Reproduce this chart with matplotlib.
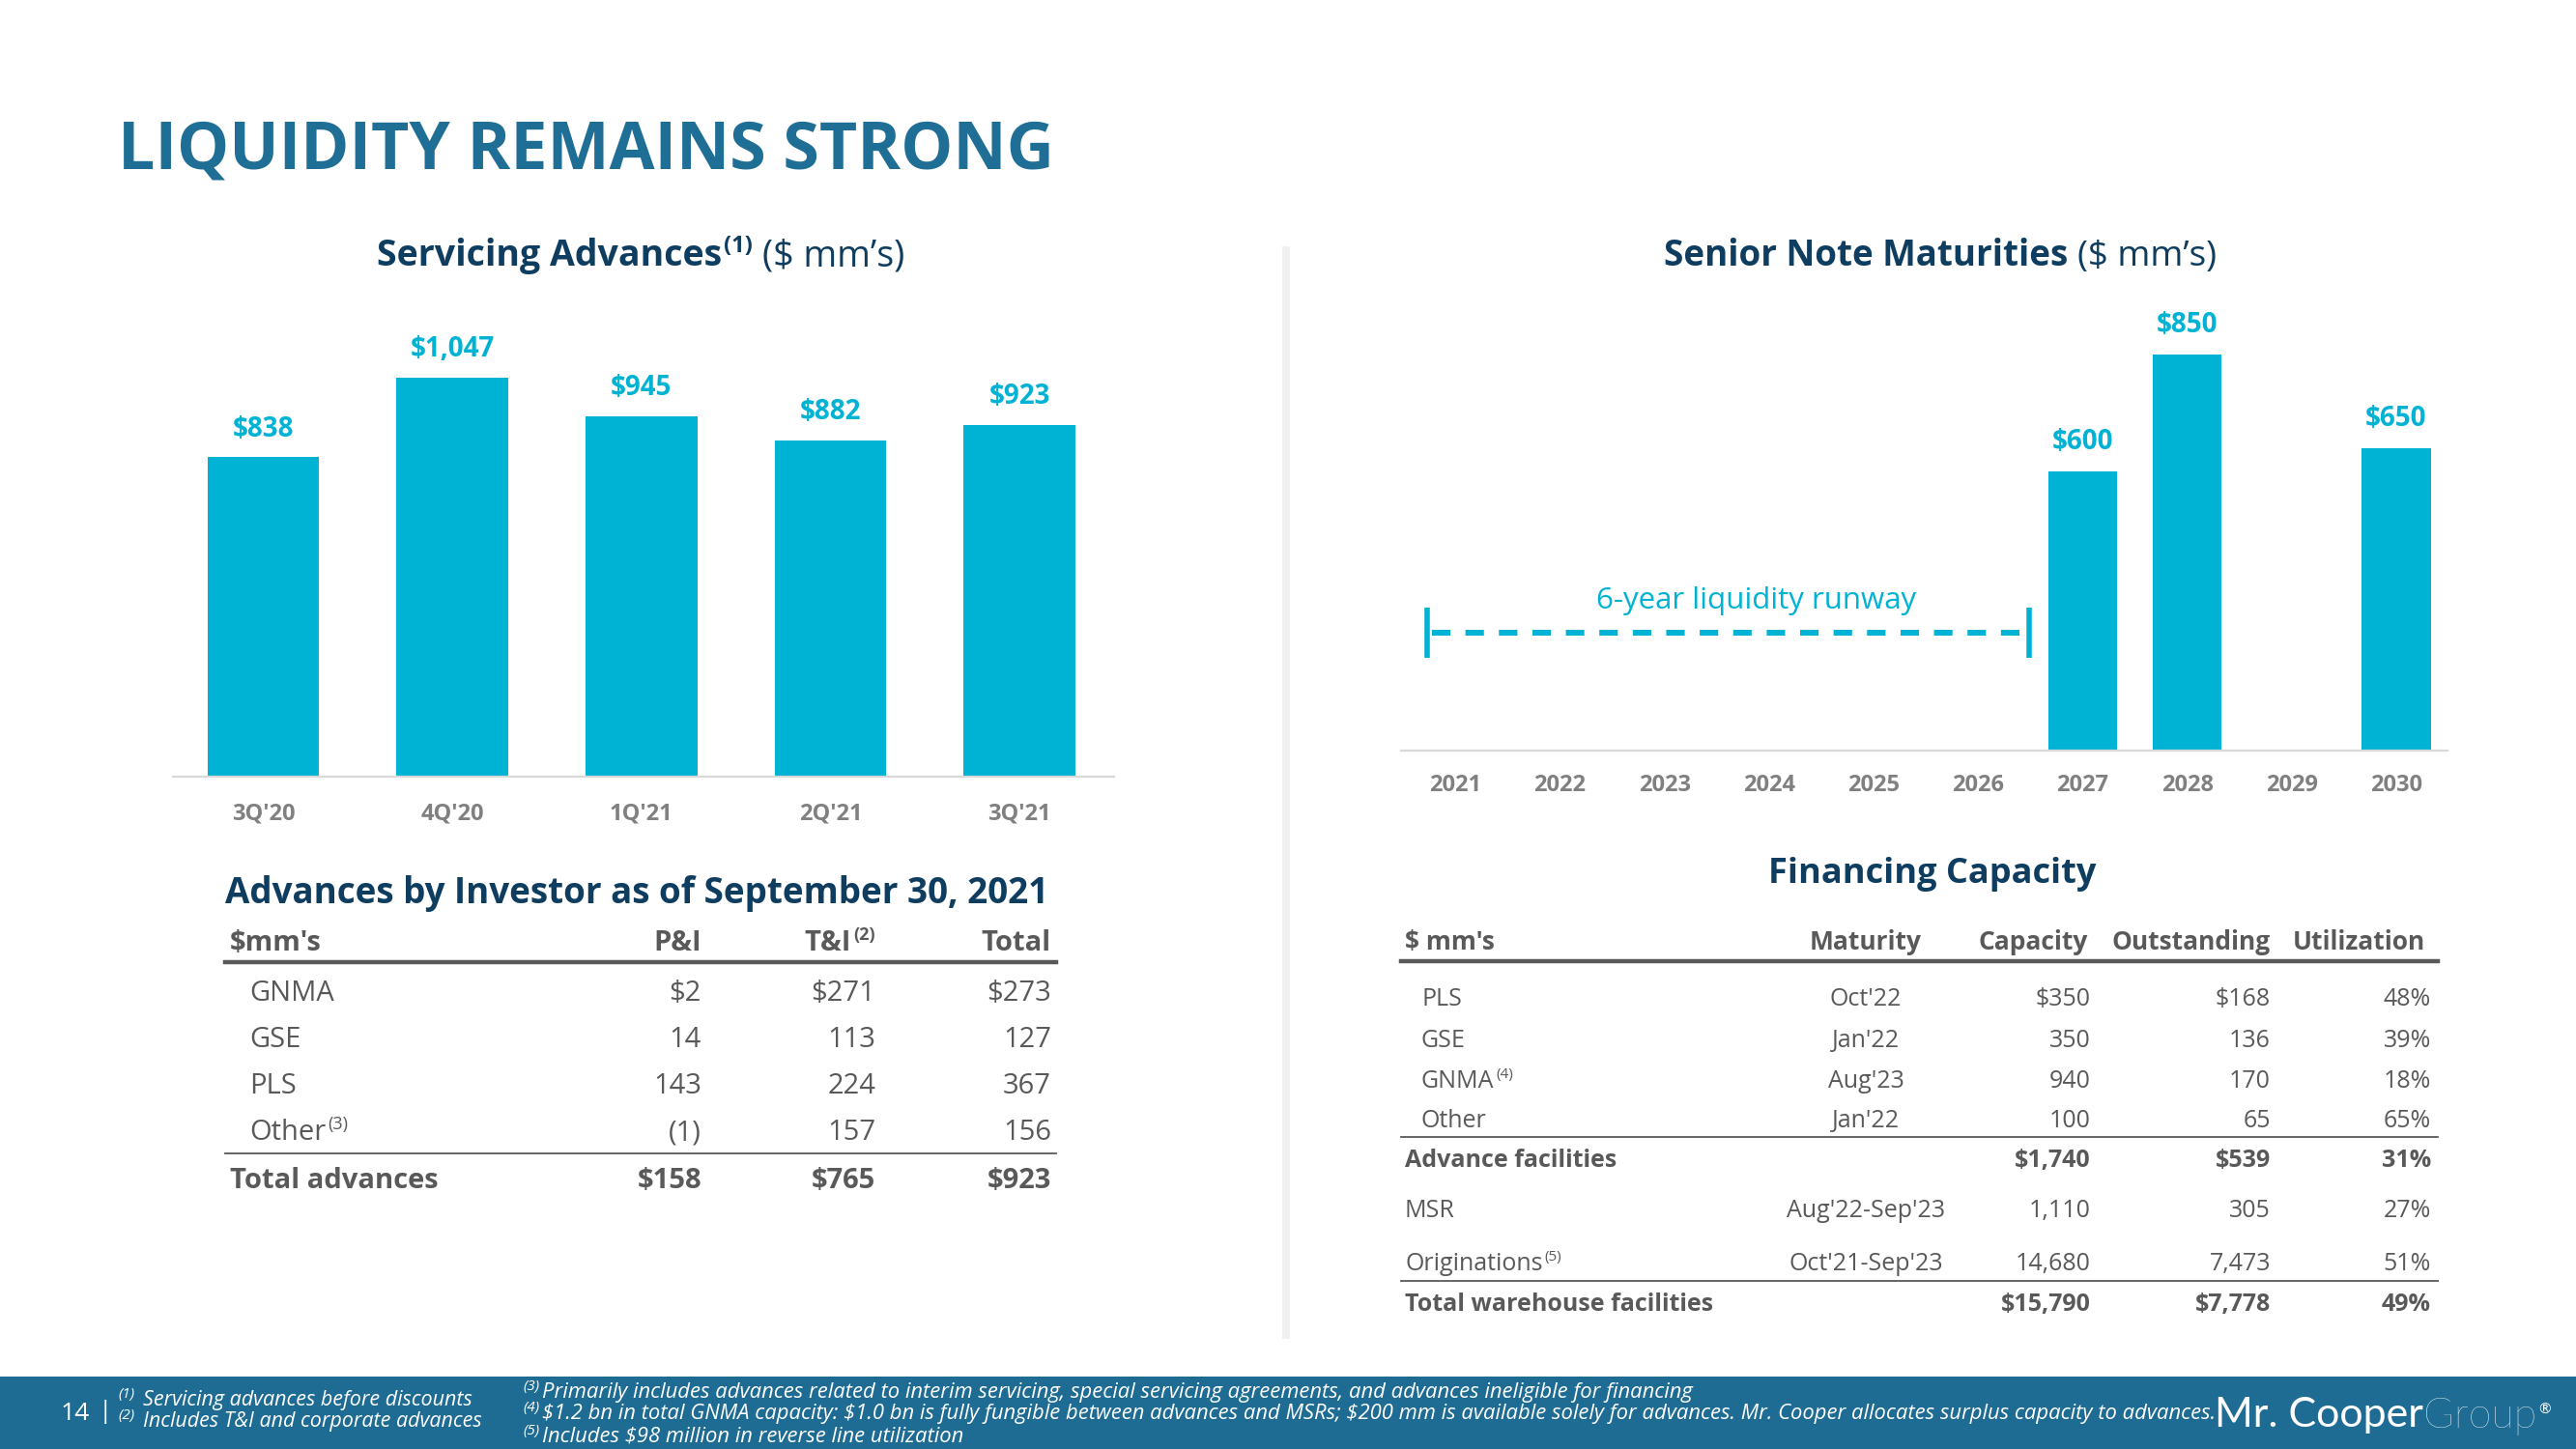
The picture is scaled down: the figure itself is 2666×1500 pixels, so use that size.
import matplotlib
matplotlib.use('Agg')
import matplotlib.pyplot as plt
from matplotlib.patches import Rectangle

# ---- data ----
quarters = ["3Q'20", "4Q'20", "1Q'21", "2Q'21", "3Q'21"]
advances = [838, 1047, 945, 882, 923]

years = [2021, 2022, 2023, 2024, 2025, 2026, 2027, 2028, 2029, 2030]
maturities = [0, 0, 0, 0, 0, 0, 600, 850, 0, 650]
runway_start, runway_end = 2021, 2027

inv_rows = ['GNMA', 'GSE', 'PLS', 'Other']
inv_sup = ['', '', '', '(3)']
inv_pi = ['$2', '14', '143', '(1)']
inv_ti = ['$271', '113', '224', '157']
inv_total = ['$273', '127', '367', '156']
inv_sum = ['$158', '$765', '$923']

fin_rows = ['PLS', 'GSE', 'GNMA', 'Other']
fin_sup = ['', '', '(4)', '']
fin_maturity = ["Oct'22", "Jan'22", "Aug'23", "Jan'22"]
fin_capacity = ['$350', '350', '940', '100']
fin_outstanding = ['$168', '136', '170', '65']
fin_util = ['48%', '39%', '18%', '65%']
adv_fac = ['$1,740', '$539', '31%']
msr = ["Aug'22-Sep'23", '1,110', '305', '27%']
orig = ["Oct'21-Sep'23", '14,680', '7,473', '51%']
total_wh = ['$15,790', '$7,778', '49%']

notes_left = [('(1)', 'Servicing advances before discounts'),
              ('(2)', 'Includes T&I and corporate advances')]
notes_right = [('(3)', 'Primarily includes advances related to interim servicing, special servicing agreements, and advances ineligible for financing'),
               ('(4)', '$1.2 bn in total GNMA capacity: $1.0 bn is fully fungible between advances and MSRs; $200 mm is available solely for advances. Mr. Cooper allocates surplus capacity to advances.'),
               ('(5)', 'Includes $98 million in reverse line utilization')]

# ---- style ----
FONT = ['Open Sans', 'DejaVu Sans']
CYAN = '#00B2D3'
TITLE_BLUE = '#1F6E96'
NAVY = '#0E3D5F'
GRAY = '#595959'
TICK_GRAY = '#808080'
BAND = '#1E6C93'

plt.rcParams['font.family'] = FONT

W, H = 2666, 1500
fig = plt.figure(figsize=(W / 100, H / 100), dpi=100)
R = fig.canvas.get_renderer()


def put(x, yc, s, size, color=GRAY, weight='normal', ha='left', style='normal'):
    return fig.text(x / W, 1 - (yc + size * 0.5) / H, s, fontsize=size, color=color,
                    fontweight=weight, ha=ha, va='baseline', fontstyle=style)


def chain(x, yc, pieces, ha='left'):
    # pieces: (text, size, props, raise_px, gap_after_px)
    base = yc + pieces[0][1] * 0.5
    objs, widths = [], []
    for s, size, kw, dy, gap in pieces:
        t = fig.text(0, 1 - (base - dy) / H, s, fontsize=size, va='baseline', ha='left', **kw)
        widths.append(t.get_window_extent(R).width + gap)
        objs.append(t)
    total = sum(widths)
    start = x - {'left': 0, 'center': total / 2, 'right': total}[ha]
    for t, w in zip(objs, widths):
        t.set_x(start / W)
        start += w


def hline(y, x0, x1, lw, color=GRAY):
    fig.add_artist(plt.Line2D([x0 / W, x1 / W], [1 - y / H, 1 - y / H], lw=lw, color=color))


# ---- title ----
put(122, 150, 'LIQUIDITY REMAINS STRONG', 49, TITLE_BLUE, 'bold')

# ---- left chart: servicing advances ----
bold_navy = dict(color=NAVY, fontweight='bold')
reg_navy = dict(color=NAVY)
chain(663, 262, [('Servicing Advances', 27, bold_navy, 0, 2),
                 ('(1)', 17, bold_navy, 14, 10),
                 ("($ mm\u2019s)", 27, reg_navy, 0, 0)], ha='center')

ax1 = fig.add_axes([178.5 / W, 1 - 804 / H, (1153 - 178.5) / W, (804 - 306) / H])
xs = range(len(quarters))
ax1.bar(xs, advances, width=0.59, color=CYAN)
for x, v in zip(xs, advances):
    ax1.annotate(f'${v:,}', (x, v), xytext=(0, 21), textcoords='offset points',
                 ha='center', va='center', fontsize=20, fontweight='bold', color=CYAN)
ax1.set_xlim(-0.48, 4.5)
ax1.set_ylim(0, 1262)
ax1.set_xticks(list(xs), quarters)

# ---- right chart: senior note maturities ----
chain(2008, 262, [('Senior Note Maturities', 26.5, bold_navy, 0, 10),
                  ("($ mm\u2019s)", 26.5, reg_navy, 0, 0)], ha='center')

ax2 = fig.add_axes([1450 / W, 1 - 777 / H, (2533 - 1450) / W, (777 - 306) / H])
ax2.bar(years, maturities, width=0.66, color=CYAN)
for x, v in zip(years, maturities):
    if v:
        ax2.annotate(f'${v:,}', (x, v), xytext=(0, 22), textcoords='offset points',
                     ha='center', va='center', fontsize=20, fontweight='bold', color=CYAN)
ax2.set_xlim(2020.48, 2030.49)
ax2.set_ylim(0, 977)
ax2.set_xticks(years, [str(y) for y in years])

rx0, rx1, ry = runway_start - 0.27, runway_end - 0.51, 254
ax2.plot([rx0 + 0.05, rx1], [ry, ry], color=CYAN, lw=4.3, dashes=(3.2, 2.6), solid_capstyle='butt')
for xx in (rx0, rx1):
    ax2.plot([xx, xx], [ry - 54, ry + 54], color=CYAN, lw=4.0, solid_capstyle='butt')
ax2.text((rx0 + rx1) / 2 + 0.27, 321, '6-year liquidity runway', ha='center', va='center',
         fontsize=22.5, color=CYAN)

for ax, pad in ((ax1, 19), (ax2, 17)):
    for s in ('top', 'left', 'right'):
        ax.spines[s].set_visible(False)
    ax.spines['bottom'].set_color('#D9D9D9')
    ax.spines['bottom'].set_linewidth(1.6)
    ax.set_yticks([])
    ax.tick_params(axis='x', length=0, pad=pad, labelsize=17, labelcolor=TICK_GRAY)
    for lab in ax.get_xticklabels():
        lab.set_fontweight('bold')
    ax.patch.set_alpha(0)

# divider
fig.add_artist(Rectangle((1327 / W, 1 - 1386 / H), 8 / W, (1386 - 255) / H,
                         transform=fig.transFigure, color='#F0F0F0', lw=0))

# ---- left table ----
put(233, 922, 'Advances by Investor as of September 30, 2021', 26.5, NAVY, 'bold')
hb = dict(color=GRAY, fontweight='bold')
put(238, 974, "$mm's", 21, GRAY, 'bold')
put(726, 974, 'P&I', 21, GRAY, 'bold', ha='right')
chain(906, 974, [('T&I', 21, hb, 0, 3), ('(2)', 13, hb, 11, 0)], ha='right')
put(1088, 974, 'Total', 21, GRAY, 'bold', ha='right')
hline(996, 233, 1093, 3.2)
row_y = [1025, 1073, 1122, 1170]
for y, name, sp, a, b, c in zip(row_y, inv_rows, inv_sup, inv_pi, inv_ti, inv_total):
    if sp:
        chain(258, y, [(name, 21, dict(color=GRAY), 0, 2), (sp, 13, dict(color=GRAY), 11, 0)])
    else:
        put(258, y, name, 21)
    put(726, y, a, 21, ha='right')
    put(906, y, b, 21, ha='right')
    put(1088, y, c, 21, ha='right')
hline(1194, 233, 1093, 1.3)
put(238, 1219, 'Total advances', 21, GRAY, 'bold')
for x, v in zip((726, 906, 1088), inv_sum):
    put(x, 1219, v, 21, GRAY, 'bold', ha='right')

# ---- right table ----
put(2000, 901, 'Financing Capacity', 26, NAVY, 'bold', ha='center')
put(1454, 974, "$ mm's", 19, GRAY, 'bold')
put(1931, 974, 'Maturity', 19, GRAY, 'bold', ha='center')
put(2161, 974, 'Capacity', 19, GRAY, 'bold', ha='right')
put(2350, 974, 'Outstanding', 19, GRAY, 'bold', ha='right')
put(2510, 974, 'Utilization', 19, GRAY, 'bold', ha='right')
hline(995, 1450, 2523, 3.2)
cols = (2164, 2350, 2516)
fin_y = [1032, 1075, 1117, 1158]
for y, name, sp, m, c, o, u in zip(fin_y, fin_rows, fin_sup, fin_maturity,
                                   fin_capacity, fin_outstanding, fin_util):
    if sp:
        chain(1471, y, [(name, 18, dict(color=GRAY), 0, 2), (sp, 11, dict(color=GRAY), 10, 0)])
    else:
        put(1471, y, name, 18)
    put(1931, y, m, 18, ha='center')
    for x, v in zip(cols, (c, o, u)):
        put(x, y, v, 18, ha='right')
hline(1177, 1450, 2523, 1.3)
put(1454, 1199, 'Advance facilities', 18, GRAY, 'bold')
for x, v in zip(cols, adv_fac):
    put(x, 1199, v, 18, GRAY, 'bold', ha='right')
put(1454, 1251, 'MSR', 18)
put(1931, 1251, msr[0], 18, ha='center')
for x, v in zip(cols, msr[1:]):
    put(x, 1251, v, 18, ha='right')
chain(1454, 1306, [('Originations', 18, dict(color=GRAY), 0, 2), ('(5)', 11, dict(color=GRAY), 10, 0)])
put(1931, 1306, orig[0], 18, ha='center')
for x, v in zip(cols, orig[1:]):
    put(x, 1306, v, 18, ha='right')
hline(1326, 1450, 2523, 1.3)
put(1454, 1348, 'Total warehouse facilities', 18, GRAY, 'bold')
for x, v in zip(cols, total_wh):
    put(x, 1348, v, 18, GRAY, 'bold', ha='right')

# ---- footer band ----
fig.add_artist(Rectangle((0, 0), 1, 75 / H, transform=fig.transFigure, color=BAND, lw=0))
put(63, 1460, '14', 19, 'white')
put(102, 1458, '|', 19, 'white')
it = dict(color='white', fontstyle='italic')
for (sp, txt), y in zip(notes_left, (1449, 1472)):
    chain(122, y, [(sp, 11, it, 8, 9), (txt, 15.5, it, 0, 0)])
for (sp, txt), y in zip(notes_right, (1442, 1464, 1487)):
    chain(541, y, [(sp, 11, it, 8, 3), (txt, 15.8, it, 0, 0)])

logo = dict(color='white', family=['Lato', 'DejaVu Sans'])
chain(2292, 1462, [('Mr. Cooper', 31, logo, 0, 0),
                   ('Group', 31, dict(logo, fontweight='light'), 0, 2),
                   ('\u00ae', 11, logo, 14, 0)])

fig.savefig('out.png', dpi=100)
